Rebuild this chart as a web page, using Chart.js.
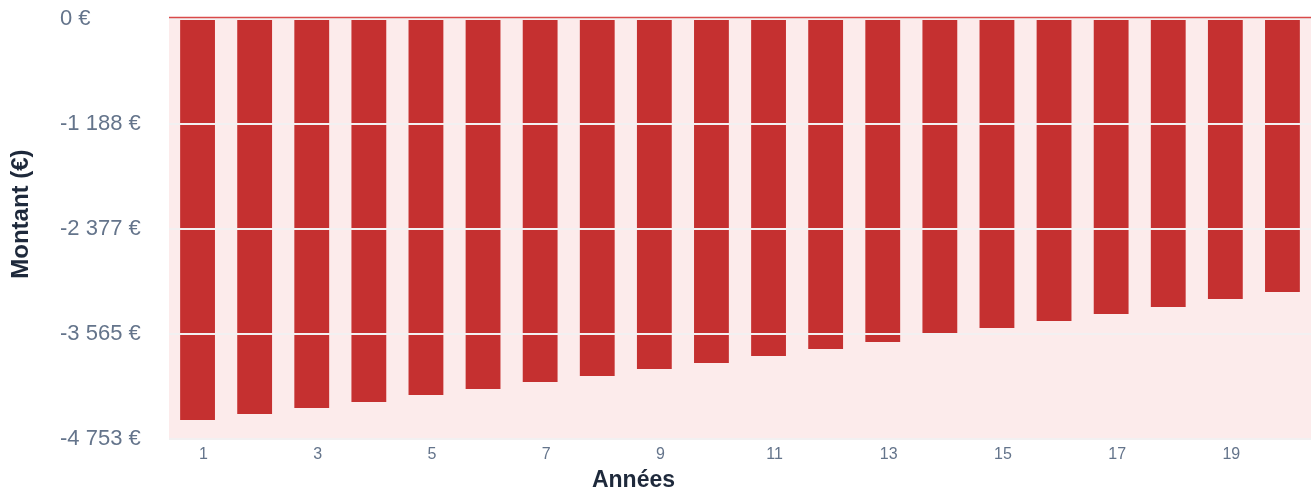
<!DOCTYPE html>
<html lang="fr">
<head>
<meta charset="utf-8">
<script src="https://cdn.jsdelivr.net/npm/chart.js@4"></script>
<style>
  html, body { margin: 0; padding: 0; background: #fff; }
  #wrap { width: 1311px; height: 492px; position: relative; }
</style>
</head>
<body>
<div id="wrap"><canvas id="chart"></canvas></div>
<script>
// données
const years = ["1","2","3","4","5","6","7","8","9","10","11","12","13","14","15","16","17","18","19","20"];
const amounts = [-4538, -4470, -4402, -4335, -4255, -4187, -4108, -4040, -3961, -3893,
                 -3814, -3735, -3655, -3557, -3497, -3418, -3338, -3259, -3169, -3090];
// graduations de l'axe Y, de bas en haut
const yTickLabels = ["-4 753 €", "-3 565 €", "-2 377 €", "-1 188 €", "0 €"];
const yMin = -4753;
const yMax = 0;
const xTitle = "Années";
const yTitle = "Montant (€)";

const FONT = "'Liberation Sans', Arial, sans-serif";

// fond rose de la zone de tracé, grille blanche par-dessus les barres, ligne rouge du zéro, titres
const decor = {
  id: "decor",
  beforeDraw(chart) {
    const { ctx, chartArea: a } = chart;
    ctx.save();
    ctx.fillStyle = "#fcebeb";
    ctx.fillRect(a.left, a.top - 2, a.right - a.left, a.bottom - a.top + 2);
    ctx.restore();
  },
  afterDatasetsDraw(chart) {
    const { ctx, chartArea: a, scales } = chart;
    ctx.save();
    ctx.strokeStyle = "#f2f0f1";
    ctx.lineWidth = 2;
    scales.y.ticks.forEach(t => {
      const y = Math.round(scales.y.getPixelForValue(t.value));
      ctx.beginPath();
      ctx.moveTo(a.left, y);
      ctx.lineTo(a.right, y);
      ctx.stroke();
    });
    const y0 = scales.y.getPixelForValue(0);
    ctx.strokeStyle = "#d94a4a";
    ctx.lineWidth = 1.5;
    ctx.beginPath();
    ctx.moveTo(a.left, y0 - 1.8);
    ctx.lineTo(a.right, y0 - 1.8);
    ctx.stroke();
    ctx.restore();
  },
  afterDraw(chart) {
    const { ctx, chartArea: a } = chart;
    ctx.save();
    ctx.fillStyle = "#1e293b";
    ctx.textAlign = "center";
    ctx.textBaseline = "middle";
    ctx.font = "bold 23px " + FONT;
    ctx.fillText(xTitle, chart.width / 2 - 22, chart.height - 11);
    ctx.translate(21, (a.top + a.bottom) / 2 - 15);
    ctx.rotate(-Math.PI / 2);
    ctx.font = "bold 24px " + FONT;
    ctx.fillText(yTitle, 0, 0);
    ctx.restore();
  }
};

new Chart(document.getElementById("chart"), {
  type: "bar",
  data: {
    labels: years,
    datasets: [{
      label: "Montant",
      data: amounts,
      backgroundColor: "#c53030",
      borderWidth: 0,
      categoryPercentage: 1,
      barPercentage: 0.61
    }]
  },
  options: {
    responsive: true,
    maintainAspectRatio: false,
    animation: false,
    layout: { padding: { left: 60, right: 0, top: 19, bottom: 0 } },
    plugins: {
      legend: { display: false },
      tooltip: { enabled: false }
    },
    scales: {
      x: {
        afterFit(scale) { scale.height = 53; },
        grid: { display: false, drawTicks: false },
        border: { display: false },
        ticks: {
          color: "#64748b",
          font: { family: FONT, size: 16 },
          maxRotation: 0,
          maxTicksLimit: 10,
          labelOffset: 6,
          padding: 6
        }
      },
      y: {
        min: yMin,
        max: yMax,
        afterFit(scale) { scale.width = 109; },
        grid: { display: false },
        border: { display: false },
        ticks: {
          count: yTickLabels.length,
          color: "#64748b",
          font: { family: FONT, size: 22 },
          crossAlign: "far",
          padding: 6,
          callback: (v, i) => yTickLabels[i]
        }
      }
    }
  },
  plugins: [decor]
});
</script>
</body>
</html>
